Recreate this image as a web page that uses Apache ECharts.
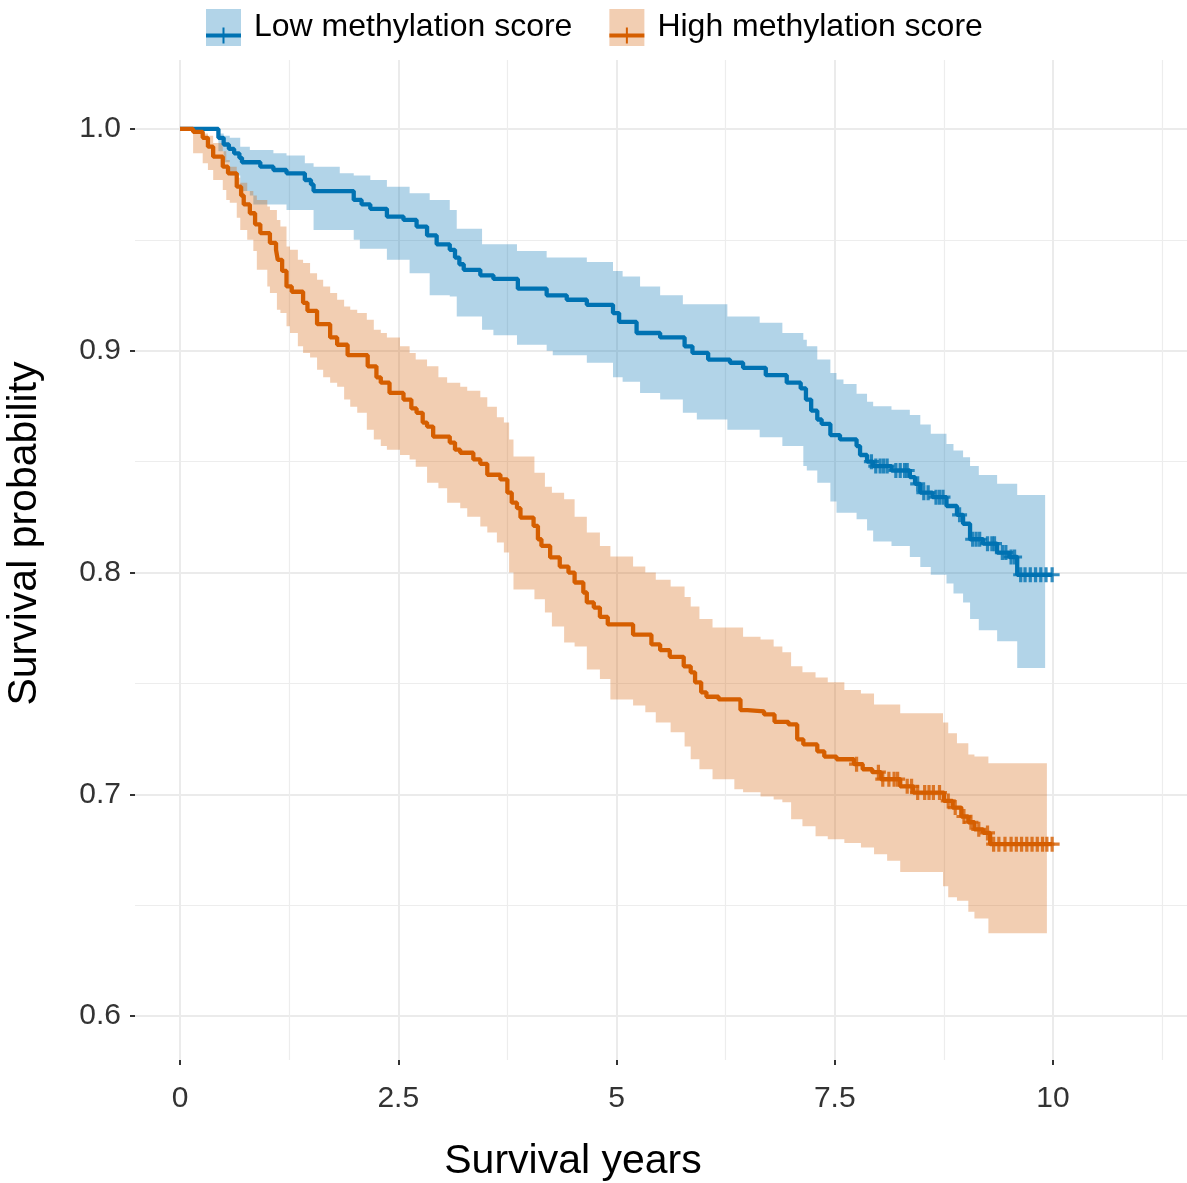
<!DOCTYPE html>
<html><head><meta charset="utf-8">
<script src="https://cdn.jsdelivr.net/npm/echarts@6/dist/echarts.min.js"></script>
<style>html,body{margin:0;padding:0;background:#fff}#chart{width:1187px;height:1183px}</style>
</head><body><div id="chart"></div>
<script>
// ---------- DATA ----------
const lowName = 'Low methylation score';
const highName = 'High methylation score';

const lowTimes = [0,0.44,0.50,0.56,0.62,0.68,0.71,0.92,1.07,1.22,1.43,1.50,1.53,1.99,2.08,2.18,2.37,2.56,2.71,2.83,2.94,3.09,3.15,3.20,3.25,3.44,3.59,3.87,4.20,4.43,4.66,4.96,5.03,5.23,5.50,5.78,5.87,6.05,6.30,6.45,6.71,6.95,7.11,7.17,7.23,7.30,7.35,7.45,7.56,7.75,7.79,7.87,7.94,8.15,8.36,8.42,8.48,8.62,8.78,8.90,8.97,9.05,9.20,9.36,9.50,9.59];
const lowSurv = [1.0,0.996,0.993,0.991,0.989,0.987,0.985,0.983,0.9815,0.980,0.977,0.975,0.972,0.968,0.966,0.964,0.9605,0.959,0.956,0.952,0.948,0.9455,0.942,0.939,0.9365,0.934,0.9324,0.928,0.925,0.923,0.9207,0.917,0.913,0.908,0.906,0.902,0.899,0.896,0.8946,0.8923,0.889,0.8856,0.883,0.878,0.873,0.869,0.867,0.862,0.860,0.857,0.853,0.850,0.848,0.846,0.843,0.840,0.836,0.834,0.830,0.826,0.822,0.815,0.813,0.809,0.807,0.799];
const lowEnd = 9.99;
const lowBandTimes = [0,0.44,0.50,0.57,0.69,0.80,0.84,1.07,1.22,1.43,1.53,1.83,1.99,2.06,2.18,2.37,2.63,2.86,3.09,3.17,3.46,3.59,3.86,4.20,4.27,4.66,4.96,5.07,5.27,5.50,5.76,5.92,6.27,6.64,6.90,7.14,7.18,7.30,7.45,7.52,7.60,7.75,7.87,7.94,8.15,8.36,8.48,8.60,8.78,8.86,8.97,9.05,9.15,9.36,9.59];
const lowBandUpper = [1,0.998,0.997,0.996,0.992,0.9905,0.9905,0.989,0.988,0.9845,0.983,0.980,0.979,0.979,0.977,0.974,0.971,0.968,0.9635,0.955,0.948,0.948,0.945,0.942,0.942,0.940,0.936,0.9335,0.929,0.925,0.921,0.921,0.9155,0.9126,0.908,0.905,0.902,0.896,0.890,0.887,0.885,0.8806,0.877,0.875,0.8734,0.871,0.8667,0.8626,0.858,0.855,0.852,0.848,0.844,0.840,0.835];
const lowBandLower = [1,0.990,0.985,0.979,0.972,0.970,0.966,0.966,0.9635,0.9635,0.9545,0.9545,0.950,0.946,0.946,0.941,0.935,0.925,0.9245,0.9155,0.9095,0.907,0.9027,0.900,0.898,0.8946,0.888,0.886,0.881,0.878,0.872,0.869,0.8644,0.861,0.857,0.848,0.846,0.8405,0.832,0.827,0.827,0.824,0.819,0.814,0.812,0.807,0.8025,0.799,0.795,0.7905,0.7865,0.779,0.774,0.769,0.757];
const lowBandEnd = 9.91;
const lowCensor = [7.92,7.97,8.02,8.06,8.10,8.20,8.25,8.30,8.33,8.45,8.52,8.57,8.66,8.70,8.74,8.93,9.08,9.12,9.16,9.25,9.30,9.33,9.42,9.46,9.52,9.56,9.63,9.68,9.74,9.80,9.86,9.92,9.99];

const highTimes = [0,0.15,0.26,0.32,0.38,0.49,0.55,0.65,0.70,0.73,0.80,0.86,0.92,1.03,1.10,1.12,1.17,1.22,1.28,1.41,1.46,1.57,1.72,1.80,1.92,2.15,2.25,2.30,2.40,2.56,2.65,2.71,2.78,2.83,2.90,3.09,3.15,3.21,3.36,3.44,3.52,3.67,3.75,3.80,3.86,3.90,4.05,4.10,4.14,4.24,4.35,4.45,4.52,4.62,4.66,4.74,4.81,4.90,5.19,5.40,5.50,5.61,5.77,5.85,5.90,5.97,6.03,6.17,6.42,6.50,6.69,6.81,6.97,7.07,7.14,7.30,7.38,7.52,7.72,7.82,7.93,8.03,8.25,8.40,8.75,8.85,8.95,9.03,9.10,9.20,9.28];
const highSurv = [1.0,0.9987,0.996,0.992,0.9875,0.983,0.980,0.974,0.970,0.966,0.962,0.957,0.953,0.9486,0.9455,0.941,0.936,0.929,0.9266,0.9216,0.918,0.912,0.906,0.9027,0.898,0.893,0.888,0.8856,0.881,0.878,0.874,0.872,0.8676,0.8658,0.8613,0.8586,0.8554,0.854,0.851,0.849,0.8441,0.842,0.836,0.8315,0.829,0.8248,0.821,0.815,0.812,0.8068,0.8027,0.800,0.7955,0.791,0.7865,0.7842,0.780,0.7766,0.772,0.7676,0.765,0.762,0.7577,0.755,0.7505,0.746,0.744,0.7428,0.738,0.7374,0.736,0.7327,0.7315,0.7248,0.7225,0.7194,0.717,0.7158,0.7136,0.7113,0.710,0.7068,0.7036,0.7008,0.697,0.694,0.690,0.6874,0.6842,0.6826,0.6775];
const highEnd = 9.99;
const highBandTimes = [0,0.15,0.26,0.32,0.38,0.49,0.53,0.57,0.65,0.69,0.77,0.84,0.88,1.00,1.03,1.11,1.15,1.22,1.26,1.35,1.41,1.49,1.57,1.64,1.72,1.80,1.88,1.95,2.03,2.14,2.22,2.30,2.37,2.52,2.63,2.70,2.83,2.96,3.06,3.21,3.29,3.44,3.52,3.63,3.71,3.77,3.82,4.06,4.18,4.26,4.40,4.52,4.66,4.81,4.93,5.19,5.33,5.45,5.62,5.78,5.85,5.95,6.10,6.35,6.45,6.65,6.80,6.90,7.00,7.13,7.28,7.42,7.61,7.80,7.95,8.10,8.25,8.74,8.80,8.90,9.03,9.10,9.26];
const highBandUpper = [1,1.0,0.998,0.997,0.9937,0.990,0.986,0.983,0.978,0.9757,0.972,0.970,0.968,0.965,0.9635,0.959,0.956,0.947,0.9455,0.941,0.9396,0.935,0.932,0.929,0.926,0.923,0.920,0.9185,0.917,0.914,0.9095,0.908,0.906,0.902,0.899,0.896,0.893,0.888,0.8856,0.8838,0.882,0.879,0.8748,0.870,0.8676,0.860,0.8523,0.845,0.8387,0.836,0.833,0.8252,0.818,0.812,0.8072,0.8027,0.800,0.7968,0.7937,0.789,0.7847,0.779,0.7752,0.7752,0.771,0.7698,0.7667,0.764,0.7577,0.755,0.7527,0.7505,0.747,0.7455,0.7405,0.7405,0.7365,0.7324,0.7275,0.723,0.718,0.717,0.714];
const highBandLower = [1,0.989,0.9845,0.9815,0.977,0.9725,0.968,0.9667,0.960,0.9545,0.950,0.945,0.9365,0.929,0.926,0.9185,0.917,0.911,0.908,0.902,0.899,0.897,0.8914,0.888,0.8856,0.8838,0.878,0.8748,0.872,0.8644,0.860,0.857,0.8554,0.853,0.851,0.8477,0.8405,0.838,0.8315,0.829,0.8252,0.8207,0.818,0.8135,0.809,0.800,0.7923,0.788,0.782,0.7757,0.7685,0.7667,0.7563,0.752,0.7428,0.740,0.737,0.7324,0.728,0.7216,0.7158,0.7113,0.7068,0.7023,0.7009,0.699,0.6977,0.6964,0.6887,0.6856,0.6811,0.6797,0.678,0.676,0.673,0.670,0.665,0.6586,0.6536,0.652,0.647,0.644,0.6374];
const highBandEnd = 9.93;
const highCensor = [7.75,8.00,8.05,8.12,8.18,8.22,8.33,8.38,8.45,8.53,8.58,8.63,8.70,8.80,8.88,8.98,9.06,9.15,9.25,9.32,9.38,9.45,9.52,9.58,9.64,9.70,9.76,9.82,9.88,9.93,9.99];

const xTicks = [0, 2.5, 5, 7.5, 10];
const xMinorTicks = [1.25, 3.75, 6.25, 8.75, 11.25];
const yTicks = [0.6, 0.7, 0.8, 0.9, 1.0];
const yMinorTicks = [0.65, 0.75, 0.85, 0.95];
const xRange = [-0.5155, 11.535];
const yRange = [0.5802, 1.0311];

// ---------- STYLE ----------
const lowColor = '#0072B2', highColor = '#D55E00';
const lowFill = 'rgba(0,114,178,0.30)', highFill = 'rgba(213,94,0,0.30)';
const FONT = '"Liberation Sans", Arial, Helvetica, sans-serif';
const plusPath = 'path://M5.5,0H8.5V5.5H14V8.5H8.5V14H5.5V8.5H0V5.5H5.5Z';
const keyPath = 'path://M0,6H35V10H0Z M16.5,0H18.5V16H16.5Z';

function stepAt(times, surv, t) {
  let v = surv[0];
  for (let i = 0; i < times.length; i++) { if (times[i] <= t) v = surv[i]; }
  return v;
}
function curveData(times, surv, end) {
  const d = times.map((t, i) => [t, surv[i]]);
  d.push([end, surv[surv.length - 1]]);
  return d;
}
function bandSeries(name, times, upper, lower, endT, fill) {
  return {
    type: 'custom', name: name, silent: true, z: 1, clip: true,
    encode: { x: 0, y: [1, 2] },
    data: [[times[0], lower[0], upper[0]]],
    renderItem: function (params, api) {
      if (params.dataIndex !== 0) return null;
      const pts = [];
      for (let i = 0; i < times.length; i++) {
        const tn = i < times.length - 1 ? times[i + 1] : endT;
        pts.push(api.coord([times[i], upper[i]]));
        pts.push(api.coord([tn, upper[i]]));
      }
      for (let i = times.length - 1; i >= 0; i--) {
        const tn = i < times.length - 1 ? times[i + 1] : endT;
        pts.push(api.coord([tn, lower[i]]));
        pts.push(api.coord([times[i], lower[i]]));
      }
      return { type: 'polygon', shape: { points: pts }, style: { fill: fill } };
    }
  };
}
function lineSeries(name, times, surv, end, color) {
  return {
    type: 'line', name: name, step: 'end', showSymbol: false, symbol: 'none', z: 3,
    lineStyle: { color: color, width: 4.3 }, itemStyle: { color: color },
    data: curveData(times, surv, end)
  };
}
function censorSeries(name, censor, times, surv, color) {
  return {
    type: 'scatter', name: name, symbol: plusPath, symbolSize: 15, z: 4,
    itemStyle: { color: color },
    data: censor.map(c => [c, stepAt(times, surv, c)])
  };
}

const axisLabelStyle = { fontFamily: FONT, fontSize: 30, color: '#333333' };
const chart = echarts.init(document.getElementById('chart'), null, { renderer: 'canvas' });
chart.setOption({
  animation: false,
  backgroundColor: '#ffffff',
  textStyle: { fontFamily: FONT },
  grid: { left: 135, right: 0, top: 60, bottom: 123, containLabel: false, outerBoundsMode: 'none' },
  legend: [
    {
      left: 206, top: 9, padding: 0, itemWidth: 35, itemHeight: 37, itemGap: 37,
      selectedMode: false,
      textStyle: { fontFamily: FONT, fontSize: 32, color: '#000', padding: [0, 0, 0, 8] },
      data: [
        { name: lowName, icon: 'rect', itemStyle: { color: lowFill } },
        { name: highName, icon: 'rect', itemStyle: { color: highFill } }
      ]
    },
    {
      left: 206, top: 19.5, padding: 0, itemWidth: 35, itemHeight: 16, itemGap: 37,
      selectedMode: false,
      textStyle: { fontFamily: FONT, fontSize: 32, color: 'rgba(0,0,0,0)', padding: [0, 0, 0, 8] },
      data: [
        { name: lowName, icon: keyPath, itemStyle: { color: lowColor } },
        { name: highName, icon: keyPath, itemStyle: { color: highColor } }
      ]
    }
  ],
  xAxis: [
    {
      type: 'value', min: xRange[0], max: xRange[1], position: 'bottom',
      name: 'Survival years', nameLocation: 'middle', nameGap: 81,
      nameTextStyle: { fontFamily: FONT, fontSize: 41, color: '#000', padding: [0, 176, 0, 0] },
      axisLine: { show: false, onZero: false },
      axisTick: { show: true, length: 5, customValues: xTicks, lineStyle: { color: '#333', width: 2 } },
      axisLabel: Object.assign({ customValues: xTicks, margin: 24, formatter: v => String(v) }, axisLabelStyle),
      splitLine: { show: true, lineStyle: { color: '#EBEBEB', width: 2 } }
    },
    {
      type: 'value', min: xRange[0], max: xRange[1], position: 'bottom',
      axisLine: { show: false, onZero: false },
      axisTick: { show: false, customValues: xMinorTicks },
      axisLabel: { show: false, customValues: xMinorTicks },
      splitLine: { show: true, lineStyle: { color: '#EDEDED', width: 1.2 } }
    }
  ],
  yAxis: [
    {
      type: 'value', min: yRange[0], max: yRange[1], position: 'left',
      name: 'Survival probability', nameLocation: 'middle', nameGap: 90, nameRotate: 90,
      nameTextStyle: { fontFamily: FONT, fontSize: 41, color: '#000', padding: [0, 0, 0, 53] },
      axisLine: { show: false, onZero: false },
      axisTick: { show: true, length: 5, customValues: yTicks, lineStyle: { color: '#333', width: 2 } },
      axisLabel: Object.assign({ customValues: yTicks, margin: 14, formatter: v => v.toFixed(1) }, axisLabelStyle),
      splitLine: { show: true, lineStyle: { color: '#EBEBEB', width: 2 } }
    },
    {
      type: 'value', min: yRange[0], max: yRange[1], position: 'left',
      axisLine: { show: false, onZero: false },
      axisTick: { show: false, customValues: yMinorTicks },
      axisLabel: { show: false, customValues: yMinorTicks },
      splitLine: { show: true, lineStyle: { color: '#EDEDED', width: 1.2 } }
    }
  ],
  series: [
    bandSeries(lowName, lowBandTimes, lowBandUpper, lowBandLower, lowBandEnd, lowFill),
    bandSeries(highName, highBandTimes, highBandUpper, highBandLower, highBandEnd, highFill),
    lineSeries(lowName, lowTimes, lowSurv, lowEnd, lowColor),
    lineSeries(highName, highTimes, highSurv, highEnd, highColor),
    censorSeries(lowName, lowCensor, lowTimes, lowSurv, lowColor),
    censorSeries(highName, highCensor, highTimes, highSurv, highColor)
  ]
});
</script>
</body></html>
